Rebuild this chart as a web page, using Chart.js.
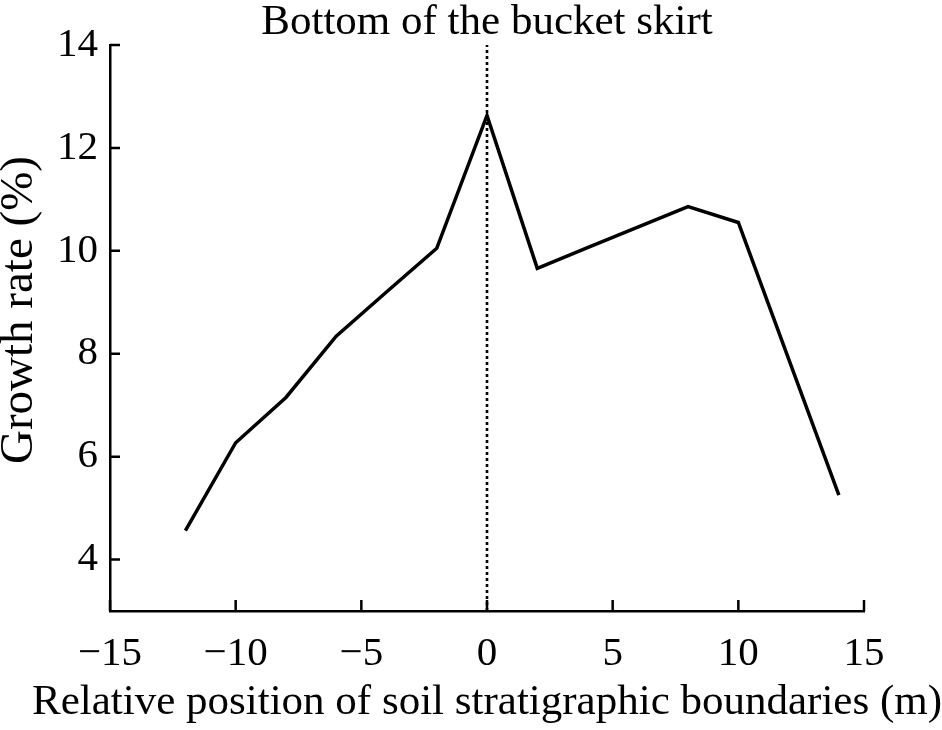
<!DOCTYPE html>
<html>
<head>
<meta charset="utf-8">
<script src="https://cdn.jsdelivr.net/npm/chart.js@4/dist/chart.umd.min.js"></script>
<style>
  body { margin: 0; background: #fff; }
</style>
</head>
<body>
<canvas id="chart" width="942" height="730"></canvas>
<script>
/* growth rate vs. relative position of soil boundaries */

const POSITIONS   = [-12, -10, -8, -6, -4, -2, 0, 2, 4, 6, 8, 10, 12, 14];
const GROWTH_RATE = [4.56, 6.27, 7.15, 8.34, 9.2, 10.05, 12.63, 9.66, 10.06, 10.46, 10.86, 10.55, 7.9, 5.25];
const SKIRT_X     = [0, 0];
const SKIRT_Y     = [3, 14];
const X_TICKS     = [-15, -10, -5, 0, 5, 10, 15];
const Y_TICKS     = [4, 6, 8, 10, 12, 14];

const SERIF = '"Liberation Serif", "Times New Roman", serif';
const TICK_FONT  = { family: SERIF, size: 41, weight: 'normal', lineHeight: 1 };
const TITLE_FONT = { family: SERIF, size: 43, weight: 'normal', lineHeight: 1 };
const fmt = v => v < 0 ? '\u2212' + Math.abs(v) : String(v);

// Chart.js squeezes axis titles to the scale length; the x label is wider than the axis
function noSqueeze(scale, shiftY) {
  const orig = scale.drawTitle;
  scale.drawTitle = function (...args) {
    const ctx = this.ctx;
    ctx.save();
    ctx.translate(0, shiftY || 0);
    ctx.fillText = function (t, x, y) { return CanvasRenderingContext2D.prototype.fillText.call(this, t, x, y); };
    orig.apply(this, args);
    delete ctx.fillText;
    ctx.restore();
  };
}

const titleFix = {
  id: 'titleFix',
  beforeDraw(chart) {
    if (chart._titleFixed) return;
    chart._titleFixed = true;
    noSqueeze(chart.scales.x, 0);
    noSqueeze(chart.scales.y, -18);
  }
};

// ticks point inwards, so draw them here
const innerTicks = {
  id: 'innerTicks',
  afterDatasetsDraw(chart) {
    const { ctx, chartArea, scales: { x, y } } = chart;
    ctx.save();
    ctx.strokeStyle = '#000';
    ctx.lineWidth = 2.5;
    ctx.beginPath();
    X_TICKS.forEach(v => {
      const px = x.getPixelForValue(v);
      ctx.moveTo(px, chartArea.bottom);
      ctx.lineTo(px, chartArea.bottom - 11);
    });
    Y_TICKS.forEach(v => {
      const py = y.getPixelForValue(v);
      ctx.moveTo(chartArea.left, py);
      ctx.lineTo(chartArea.left + 10, py);
    });
    ctx.stroke();
    ctx.restore();
  }
};

new Chart(document.getElementById('chart'), {
  type: 'line',
  data: {
    datasets: [
      {
        data: POSITIONS.map((p, i) => ({ x: p, y: GROWTH_RATE[i] })),
        borderColor: '#000',
        borderWidth: 3.5,
        pointRadius: 0,
        tension: 0
      },
      {
        data: SKIRT_X.map((p, i) => ({ x: p, y: SKIRT_Y[i] })),
        borderColor: '#000',
        borderWidth: 2.6,
        borderDash: [3, 3],
        pointRadius: 0
      }
    ]
  },
  options: {
    responsive: false,
    animation: false,
    layout: { padding: { left: 0, right: 78, top: 0, bottom: 6 } },
    plugins: {
      legend: { display: false },
      tooltip: { enabled: false },
      title: {
        display: true,
        fullSize: false,
        text: 'Bottom of the bucket skirt',
        color: '#000',
        font: TITLE_FONT,
        padding: { top: 1, bottom: 1 }
      }
    },
    scales: {
      x: {
        type: 'linear',
        min: -15, max: 15,
        afterBuildTicks: s => { s.ticks = X_TICKS.map(v => ({ value: v })); },
        afterFit: s => { s.height = 113; },
        grid: { display: false, drawTicks: false },
        border: { display: true, color: '#000', width: 2.5 },
        ticks: { color: '#000', font: TICK_FONT, padding: 23, maxRotation: 0, callback: fmt },
        title: { display: true, text: 'Relative position of soil stratigraphic boundaries (m)', color: '#000', font: TITLE_FONT, padding: 0 }
      },
      y: {
        min: 3, max: 14,
        afterBuildTicks: s => { s.ticks = Y_TICKS.map(v => ({ value: v })); },
        afterFit: s => { s.width = 110; },
        grid: { display: false, drawTicks: false },
        border: { display: true, color: '#000', width: 2.5 },
        ticks: { color: '#000', font: TICK_FONT, padding: 12, callback: fmt },
        title: { display: true, text: 'Growth rate (%)', color: '#000', font: { family: SERIF, size: 47, lineHeight: 0.85 }, padding: 0 }
      }
    }
  },
  plugins: [titleFix, innerTicks]
});
</script>
</body>
</html>
